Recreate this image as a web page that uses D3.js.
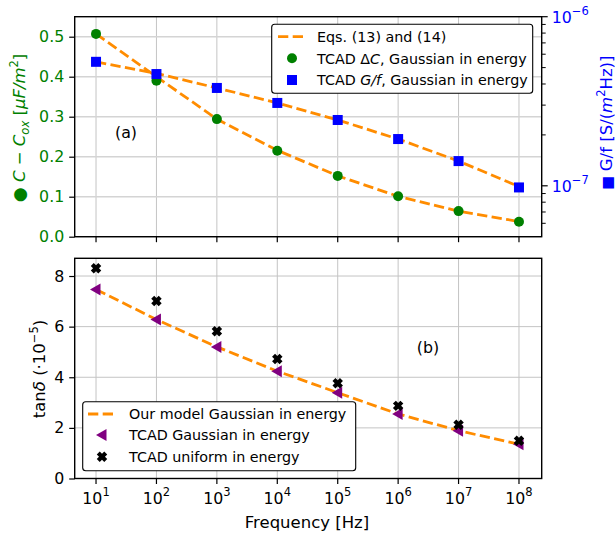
<!DOCTYPE html>
<html>
<head>
<meta charset="utf-8">
<script src="https://cdn.jsdelivr.net/npm/d3@7"></script>
<style>
  html, body { margin: 0; padding: 0; background: #fff; }
  svg { display: block; font-family: "DejaVu Sans", sans-serif; }
</style>
</head>
<body>
<svg id="chart" width="615" height="536"></svg>
<script>
// Frequencies (Hz), one point per decade
const freqs = [1e1, 1e2, 1e3, 1e4, 1e5, 1e6, 1e7, 1e8];

// Panel (a): capacitance change and conductance
const dcModel = [0.507, 0.400, 0.294, 0.216, 0.152, 0.101, 0.064, 0.038];
const dcTcad  = [0.507, 0.390, 0.294, 0.215, 0.152, 0.101, 0.064, 0.0375];
const gfModel = [5.41e-7, 4.62e-7, 3.79e-7, 3.09e-7, 2.45e-7, 1.89e-7, 1.40e-7, 9.9e-8];
const gfTcad  = [5.41e-7, 4.58e-7, 3.79e-7, 3.09e-7, 2.45e-7, 1.89e-7, 1.40e-7, 9.78e-8];

// Panel (b): loss tangent (x1e-5)
const tanModel    = [7.47, 6.28, 5.20, 4.24, 3.39, 2.55, 1.89, 1.35];
const tanGaussian = [7.47, 6.28, 5.20, 4.24, 3.39, 2.55, 1.89, 1.35];
const tanUniform  = [8.31, 7.01, 5.82, 4.72, 3.76, 2.87, 2.12, 1.49];

const leftTicksA = [0, 0.1, 0.2, 0.3, 0.4, 0.5];
const rightMajorA = [1e-7, 1e-6];
const rightMinorA = [6e-8, 7e-8, 8e-8, 9e-8, 2e-7, 3e-7, 4e-7, 5e-7, 6e-7, 7e-7, 8e-7, 9e-7];
const leftTicksB = [0, 2, 4, 6, 8];

const ORANGE = "#ff8c00", GREEN = "#008000", BLUE = "#0000ff", PURPLE = "#800080";
const DASH = "10.3,4.4";

const svg = d3.select("#chart");

const L = 74.7, R = 541.7;
const topA = 16.7, botA = 236.7;
const topB = 258.3, botB = 478.5;

const x = d3.scaleLog().domain([Math.pow(10, 0.647), Math.pow(10, 8.376)]).range([L, R]);
const yA = d3.scaleLinear().domain([0, 0.55]).range([botA, topA]);
const yA2 = d3.scaleLog().domain([5e-8, 1e-6]).range([botA, topA]);
const yB = d3.scaleLinear().domain([0, 8.7]).range([botB, topB]);

// ---------- gridlines ----------
function vgrid(top, bot, color) {
  svg.append("g").selectAll("line").data(freqs).join("line")
    .attr("x1", d => x(d)).attr("x2", d => x(d))
    .attr("y1", top).attr("y2", bot)
    .attr("stroke", color).attr("stroke-width", 1);
}
vgrid(topA, botA, "#c4c4c4");
svg.append("g").selectAll("line").data(leftTicksA).join("line")
  .attr("x1", L).attr("x2", R).attr("y1", d => yA(d)).attr("y2", d => yA(d))
  .attr("stroke", "#d4d4d4").attr("stroke-width", 1.4);
vgrid(topB, botB, "#c4c4c4");
svg.append("g").selectAll("line").data(leftTicksB).join("line")
  .attr("x1", L).attr("x2", R).attr("y1", d => yB(d)).attr("y2", d => yB(d))
  .attr("stroke", "#c4c4c4").attr("stroke-width", 1);

// ---------- marker helpers ----------
function circles(data, y, r, fill) {
  svg.append("g").selectAll("circle").data(data).join("circle")
    .attr("cx", (d, i) => x(freqs[i])).attr("cy", d => y(d))
    .attr("r", r).attr("fill", fill);
}
function squares(data, y, s, fill) {
  svg.append("g").selectAll("rect").data(data).join("rect")
    .attr("x", (d, i) => x(freqs[i]) - s / 2).attr("y", d => y(d) - s / 2)
    .attr("width", s).attr("height", s).attr("fill", fill);
}
function triPath(cx, cy, s) {
  return `M${cx - s},${cy} L${cx + s * 0.75},${cy - s} L${cx + s * 0.75},${cy + s} Z`;
}
function xPath(cx, cy) {
  // filled "X" marker: a plus shape rotated by 45 degrees
  const a = 5.3, h = 2.1;
  const plus = [
    [h, -h], [a, -h], [a, h], [h, h], [h, a], [-h, a],
    [-h, h], [-a, h], [-a, -h], [-h, -h], [-h, -a], [h, -a]
  ];
  const c = Math.SQRT1_2;
  return "M" + plus.map(p => `${cx + (p[0] - p[1]) * c},${cy + (p[0] + p[1]) * c}`).join("L") + "Z";
}
function dashed(data, y) {
  const line = d3.line().x((d, i) => x(freqs[i])).y(d => y(d));
  svg.append("path").datum(data).attr("d", line)
    .attr("fill", "none").attr("stroke", ORANGE).attr("stroke-width", 2.8)
    .attr("stroke-dasharray", DASH);
}

// ---------- panel (a) data ----------
dashed(dcModel, yA);
dashed(gfModel, yA2);
circles(dcTcad, yA, 5, GREEN);
squares(gfTcad, yA2, 10, BLUE);

// ---------- panel (b) data ----------
dashed(tanModel, yB);
svg.append("g").selectAll("path").data(tanGaussian).join("path")
  .attr("d", (d, i) => triPath(x(freqs[i]), yB(d), 6)).attr("fill", PURPLE);
svg.append("g").selectAll("path").data(tanUniform).join("path")
  .attr("d", (d, i) => xPath(x(freqs[i]), yB(d))).attr("fill", "#000");

// ---------- axes ----------
const fontTick = 15.8;
const fontSup = 11.5;

// Panel (a) left axis
const axA = svg.append("g").attr("transform", `translate(${L},0)`)
  .call(d3.axisLeft(yA).tickValues(leftTicksA).tickFormat(d3.format(".1f")).tickSize(5.5).tickPadding(5));
axA.select(".domain").remove();
axA.selectAll("line").attr("stroke", "#000").attr("stroke-width", 1.2);
axA.selectAll("text").attr("fill", GREEN).attr("font-size", fontTick).attr("font-family", "DejaVu Sans");

// Panel (a) right log axis
const axA2 = svg.append("g").attr("transform", `translate(${R},0)`);
axA2.selectAll("line.minor").data(rightMinorA).join("line")
  .attr("x1", 0).attr("x2", 4).attr("y1", d => yA2(d)).attr("y2", d => yA2(d))
  .attr("stroke", "#000").attr("stroke-width", 1);
axA2.selectAll("line.major").data(rightMajorA).join("line")
  .attr("x1", 0).attr("x2", 6).attr("y1", d => yA2(d)).attr("y2", d => yA2(d))
  .attr("stroke", "#000").attr("stroke-width", 1.2);
const rt = axA2.selectAll("text").data(rightMajorA).join("text")
  .attr("x", 10).attr("y", d => yA2(d) + 5.8)
  .attr("fill", BLUE).attr("font-size", fontTick);
rt.append("tspan").text("10");
rt.append("tspan").attr("dy", -7.5).attr("font-size", fontSup)
  .text(d => "\u2212" + Math.round(-Math.log10(d)));

// Panel (a) bottom ticks (no labels)
svg.append("g").selectAll("line").data(freqs).join("line")
  .attr("x1", d => x(d)).attr("x2", d => x(d)).attr("y1", botA).attr("y2", botA + 5.5)
  .attr("stroke", "#000").attr("stroke-width", 1.2);

// Panel (b) left axis
const axB = svg.append("g").attr("transform", `translate(${L},0)`)
  .call(d3.axisLeft(yB).tickValues(leftTicksB).tickFormat(d3.format("d")).tickSize(5.5).tickPadding(5));
axB.select(".domain").remove();
axB.selectAll("line").attr("stroke", "#000").attr("stroke-width", 1.2);
axB.selectAll("text").attr("fill", "#000").attr("font-size", fontTick).attr("font-family", "DejaVu Sans");

// Panel (b) bottom axis with 10^n labels
const axBx = svg.append("g").attr("transform", `translate(0,${botB})`);
axBx.selectAll("line").data(freqs).join("line")
  .attr("x1", d => x(d)).attr("x2", d => x(d)).attr("y1", 0).attr("y2", 5.5)
  .attr("stroke", "#000").attr("stroke-width", 1.2);
const bt = axBx.selectAll("text").data(freqs).join("text")
  .attr("x", d => x(d)).attr("y", 25).attr("text-anchor", "middle")
  .attr("fill", "#000").attr("font-size", fontTick);
bt.append("tspan").text("10");
bt.append("tspan").attr("dy", -7.5).attr("font-size", fontSup).text(d => Math.round(Math.log10(d)));

// Spines
function frame(top, bot) {
  svg.append("rect").attr("x", L).attr("y", top).attr("width", R - L).attr("height", bot - top)
    .attr("fill", "none").attr("stroke", "#000").attr("stroke-width", 1.4);
}
frame(topA, botA);
frame(topB, botB);

// ---------- axis labels ----------
const fontLabel = 16.5;
// left label panel (a)
const la = svg.append("text").attr("transform", `translate(25,128) rotate(-90)`)
  .attr("text-anchor", "middle").attr("fill", GREEN).attr("font-size", fontLabel);
la.append("tspan").attr("font-size", 17).text("\u25CF ");
la.append("tspan").attr("font-style", "italic").text("C");
la.append("tspan").text(" \u2212 ");
la.append("tspan").attr("font-style", "italic").text("C");
la.append("tspan").attr("font-style", "italic").attr("font-size", fontSup).attr("dy", 4).text("ox");
la.append("tspan").attr("dy", -4).text(" [");
la.append("tspan").attr("font-style", "italic").text("\u03BCF/m");
la.append("tspan").attr("font-size", fontSup).attr("dy", -7.5).text("2");
la.append("tspan").attr("dy", 7.5).text("]");

// right label panel (a)
const ra = svg.append("text").attr("transform", `translate(612,122.5) rotate(-90)`)
  .attr("text-anchor", "middle").attr("fill", BLUE).attr("font-size", fontLabel);
ra.append("tspan").attr("font-size", 14.5).text("\u25A0 ");
ra.append("tspan").text("G/f [S/(");
ra.append("tspan").attr("font-style", "italic").text("m");
ra.append("tspan").attr("font-size", fontSup).attr("dy", -7.5).text("2");
ra.append("tspan").attr("dy", 7.5).text("Hz)]");

// left label panel (b)
const lb = svg.append("text").attr("transform", `translate(45,369) rotate(-90)`)
  .attr("text-anchor", "middle").attr("fill", "#000").attr("font-size", fontLabel);
lb.append("tspan").text("tan");
lb.append("tspan").attr("font-style", "italic").text("\u03B4");
lb.append("tspan").text(" (\u00B710");
lb.append("tspan").attr("font-size", fontSup).attr("dy", -7.5).text("\u22125");
lb.append("tspan").attr("dy", 7.5).text(")");

// x label
svg.append("text").attr("x", 307).attr("y", 527.5).attr("text-anchor", "middle")
  .attr("font-size", fontLabel).attr("fill", "#000").text("Frequency [Hz]");

// panel tags
svg.append("text").attr("x", 126).attr("y", 137.5).attr("text-anchor", "middle")
  .attr("font-size", fontTick).text("(a)");
svg.append("text").attr("x", 428).attr("y", 352.5).attr("text-anchor", "middle")
  .attr("font-size", fontTick).text("(b)");

// ---------- legends ----------
const fontLeg = 14.3;
function legendBox(x0, y0, w, h) {
  svg.append("rect").attr("x", x0).attr("y", y0).attr("width", w).attr("height", h)
    .attr("rx", 3).attr("fill", "#fff").attr("stroke", "#000").attr("stroke-width", 1.1);
}
function legDash(x0, y) {
  svg.append("line").attr("x1", x0).attr("x2", x0 + 28).attr("y1", y).attr("y2", y)
    .attr("stroke", ORANGE).attr("stroke-width", 2.8).attr("stroke-dasharray", DASH);
}

// legend (a)
legendBox(271.7, 24.3, 261, 69);
legDash(278, 36.7);
svg.append("circle").attr("cx", 292).attr("cy", 58.3).attr("r", 5).attr("fill", GREEN);
svg.append("rect").attr("x", 287).attr("y", 75).attr("width", 10).attr("height", 10).attr("fill", BLUE);
svg.append("text").attr("x", 317).attr("y", 41.8).attr("font-size", fontLeg).text("Eqs. (13) and (14)");
const lg2 = svg.append("text").attr("x", 317).attr("y", 63.5).attr("font-size", fontLeg);
lg2.append("tspan").text("TCAD \u0394");
lg2.append("tspan").attr("font-style", "italic").text("C");
lg2.append("tspan").text(", Gaussian in energy");
const lg3 = svg.append("text").attr("x", 317).attr("y", 85.2).attr("font-size", fontLeg);
lg3.append("tspan").text("TCAD ");
lg3.append("tspan").attr("font-style", "italic").text("G/f");
lg3.append("tspan").text(", Gaussian in energy");

// legend (b)
legendBox(82.7, 401.7, 273, 69);
legDash(88, 414);
svg.append("path").attr("d", triPath(102, 435, 6)).attr("fill", PURPLE);
svg.append("path").attr("d", xPath(102, 456.7)).attr("fill", "#000");
svg.append("text").attr("x", 129).attr("y", 419.2).attr("font-size", fontLeg).text("Our model Gaussian in energy");
svg.append("text").attr("x", 129).attr("y", 440.2).attr("font-size", fontLeg).text("TCAD Gaussian in energy");
svg.append("text").attr("x", 129).attr("y", 461.9).attr("font-size", fontLeg).text("TCAD uniform in energy");
</script>
</body>
</html>
